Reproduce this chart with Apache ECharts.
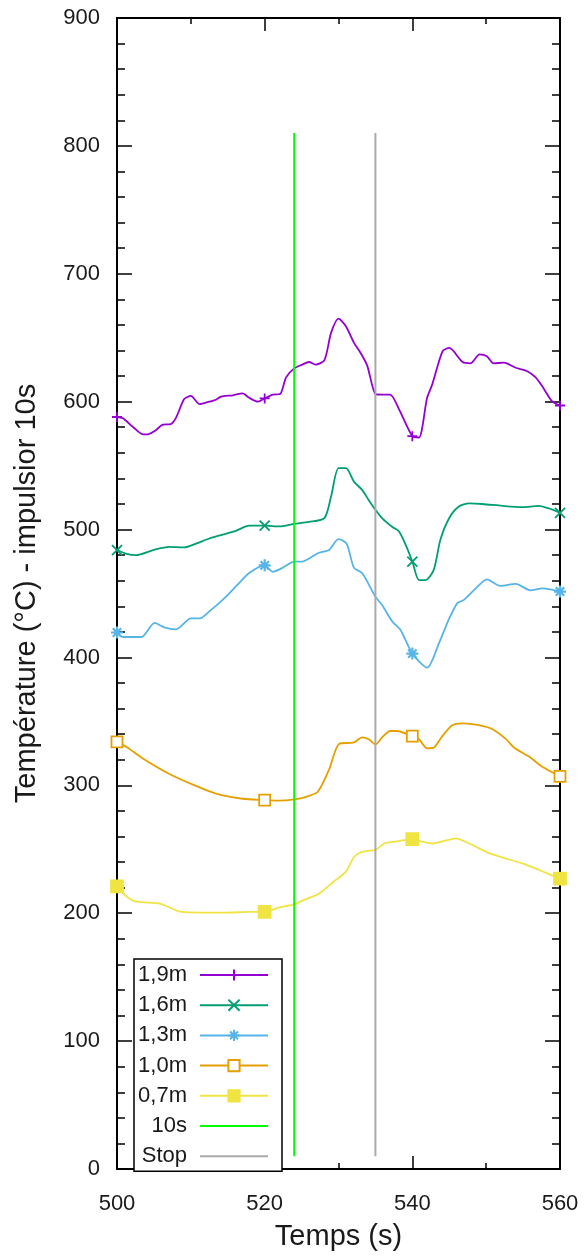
<!DOCTYPE html>
<html>
<head>
<meta charset="utf-8">
<script src="https://cdn.jsdelivr.net/npm/echarts@6/dist/echarts.min.js"></script>
<style>
  html, body { margin: 0; padding: 0; background: #fff; }
  #chart { width: 586px; height: 1257px; }
</style>
</head>
<body>
<div id="chart"></div>
<script>
// Temperature readings [time (s), °C] per probe height
const temp19 = [[500,588],[500.8,587],[502.2,580],[503.5,574.5],[504.2,574.5],[505.1,577],[506.2,582],[507.3,582.5],[508,587.5],[509.1,602],[510,604.5],[511.2,598],[512.5,600],[513.4,601.5],[514.1,604],[515.7,605],[517,606.5],[517.9,603],[519.1,600],[520,602.5],[521.1,605.5],[522.1,606],[522.9,619],[524,626],[525.1,629],[526,631],[526.9,629],[528.1,632.5],[529,654],[530,665],[531,659],[532.1,646],[533,638],[533.9,628],[535,606],[535.9,605.5],[537,605.5],[538.2,594],[540,573],[540.9,572],[542,603],[542.7,613.5],[544.1,639.5],[545,642],[546.8,631],[547.9,630],[549.1,637],[550.1,635.5],[551,630],[552.4,630.5],[554,626.5],[555.5,624],[556.7,619],[557.6,612],[558.9,600.5],[560,597]];
const temp16 = [[500,484],[501.3,481],[502.6,480],[504.9,484],[507.1,486.5],[509.1,486],[510.7,489],[512.5,493],[514.3,496],[516.1,499],[517.9,503],[520,503],[522,502.5],[524,504.5],[526,506],[528.1,509],[529,526],[530,548],[531,548],[532.1,537.5],[533.2,531],[534.1,523],[535,515.5],[535.9,509],[537.3,502],[538.2,498.5],[539.1,488],[540,475],[540.9,460.5],[541.8,460.5],[542.9,468.5],[543.8,492],[545,509],[546.3,518],[547.7,520.5],[549.5,520],[552.2,518.5],[554.9,517.5],[557.1,518.5],[558.5,516.5],[560,513]];
const temp13 = [[500,419.5],[500.8,416],[503.3,416],[505.1,427],[506.4,423.5],[508,422],[510,430.5],[511.2,430.5],[512.5,436],[514.3,445],[516.1,455.5],[517.9,466],[520,472],[521.1,467],[522.4,470],[524,475],[525.1,475],[527.2,481.5],[528.7,484],[530,492.5],[531.1,489],[532.1,470],[533.2,466],[535,447.5],[535.9,441],[537.3,428],[538.4,421.5],[540,403],[542,392],[543.6,411],[545,430.5],[546.1,442.5],[547,445],[548.6,454],[550.1,461],[551.9,456],[554,457.5],[556,452.5],[557.6,454],[560,451.5]];
const temp10 = [[500,334],[501.3,330],[503.5,321],[506.9,309.5],[510.3,300.5],[513.4,293.5],[517,289.5],[520,288.5],[522,288],[524,289],[525.6,291],[527.2,295],[528.7,312],[530.1,332.5],[532.1,333.5],[533.2,337.5],[534.1,336],[535,332],[535.9,337.5],[537,342.5],[537.9,342.5],[540,338.5],[540.9,336],[542,329],[542.9,329.5],[544,338],[545.4,347],[546.8,348.5],[549,347],[550.8,344],[552.6,336.5],[553.9,329],[555.8,322.5],[557.6,314.5],[560,307]];
const temp07 = [[500,221],[501.3,213],[502.6,209],[505.8,207.5],[508.7,201],[511.6,200.5],[514.8,200.5],[517.9,201],[520,201],[522,204.5],[524,207],[525.6,211],[527.4,215.5],[529.2,224],[531,232.5],[532.1,244],[533.2,248],[535,249.5],[536.2,254.5],[537.7,256],[540,258],[541.3,256],[542.7,254.5],[545.9,258.5],[547.7,254.5],[550.4,247],[553.1,242],[554.9,239],[557.1,234],[560,227]];

// Event markers: end of 10 s impulse and stop
const eventTimes = { '10s': 524, 'Stop': 535 };
const eventSpan = [10, 810];

const xTicks = { min: 500, max: 560, interval: 20 };
const yTicks = { min: 0, max: 900, interval: 100 };

const FONT = '"Liberation Sans", Arial, sans-serif';
const TXT = '#1a1a1a';

const plusPath = 'path://M0,5L10,5M5,0L5,10';
const crossPath = 'path://M0,0L10,10M0,10L10,0';
const starPath = 'path://M0,5L10,5M5,0L5,10M1.5,1.5L8.5,8.5M1.5,8.5L8.5,1.5';

// Symbols only every 20 s, as in the plot's point interval
function withMarks(arr) {
  return arr.map(p => (p[0] % 20 === 0) ? { value: p } : { value: p, symbol: 'none' });
}

function probe(name, data, color, symbol, size, fill, markWidth) {
  return {
    name: name,
    type: 'line',
    data: withMarks(data),
    smooth: 0.25,
    clip: false,
    showAllSymbol: true,
    symbol: symbol,
    symbolSize: size,
    lineStyle: { color: color, width: 1.8 },
    itemStyle: { color: fill, borderColor: color, borderWidth: markWidth || 1.8 },
    emphasis: { disabled: true },
    z: 3
  };
}

function eventLine(name, color) {
  const t = eventTimes[name];
  return {
    name: name,
    type: 'line',
    data: [[t, eventSpan[0]], [t, eventSpan[1]]],
    symbol: 'none',
    lineStyle: { color: color, width: 2 },
    itemStyle: { color: 'rgba(0,0,0,0)', borderWidth: 0 },
    emphasis: { disabled: true },
    z: 4
  };
}

const axisLineStyle = { color: '#000', width: 2 };
const tickStyle = { color: '#000', width: 1.5 };

const option = {
  backgroundColor: '#fff',
  animation: false,
  textStyle: { fontFamily: FONT },
  grid: { left: 117, right: 26, top: 18, bottom: 88, containLabel: false },
  legend: {
    orient: 'vertical',
    left: 134,
    top: 959,
    align: 'right',
    selectedMode: false,
    backgroundColor: '#fff',
    borderColor: '#000',
    borderWidth: 1.5,
    borderRadius: 0,
    padding: [5, 13, 4, 0],
    itemGap: 8.2,
    itemWidth: 68,
    itemHeight: 14,
    formatter: name => '{t|' + name + '}',
    textStyle: {
      rich: {
        t: { width: 53, align: 'right', fontSize: 22, lineHeight: 20, color: TXT, fontFamily: FONT, padding: [0, 8, 0, 0] }
      }
    },
    data: ['1,9m', '1,6m', '1,3m', '1,0m', '0,7m', '10s', 'Stop']
  },
  xAxis: [{
    type: 'value',
    min: xTicks.min, max: xTicks.max, interval: xTicks.interval,
    name: 'Temps (s)',
    nameLocation: 'middle',
    nameGap: 53,
    nameTextStyle: { fontSize: 29, color: TXT, fontFamily: FONT },
    axisLine: { show: true, onZero: false, lineStyle: axisLineStyle },
    axisTick: { show: true, inside: true, length: 13, lineStyle: tickStyle },
    minorTick: { show: true, splitNumber: 2, length: 6, lineStyle: tickStyle },
    axisLabel: { fontSize: 22, color: TXT, margin: 24, fontFamily: FONT },
    splitLine: { show: false }
  }, {
    type: 'value', position: 'top',
    min: xTicks.min, max: xTicks.max, interval: xTicks.interval,
    axisLine: { show: true, onZero: false, lineStyle: axisLineStyle },
    axisTick: { show: true, inside: true, length: 13, lineStyle: tickStyle },
    minorTick: { show: true, splitNumber: 2, length: 6, lineStyle: tickStyle },
    axisLabel: { show: false },
    splitLine: { show: false }
  }],
  yAxis: [{
    type: 'value',
    min: yTicks.min, max: yTicks.max, interval: yTicks.interval,
    name: 'Température (°C) - impulsior 10s',
    nameLocation: 'middle',
    nameGap: 76,
    nameTextStyle: { fontSize: 29, color: TXT, fontFamily: FONT },
    axisLine: { show: true, onZero: false, lineStyle: axisLineStyle },
    axisTick: { show: true, inside: true, length: 15, lineStyle: tickStyle },
    minorTick: { show: true, splitNumber: 5, length: 8, lineStyle: tickStyle },
    axisLabel: { fontSize: 22, color: TXT, margin: 17, fontFamily: FONT },
    splitLine: { show: false }
  }, {
    type: 'value', position: 'right',
    min: yTicks.min, max: yTicks.max, interval: yTicks.interval,
    axisLine: { show: true, onZero: false, lineStyle: axisLineStyle },
    axisTick: { show: true, inside: true, length: 15, lineStyle: tickStyle },
    minorTick: { show: true, splitNumber: 5, length: 8, lineStyle: tickStyle },
    axisLabel: { show: false },
    splitLine: { show: false }
  }],
  series: [
    probe('1,9m', temp19, '#9400d3', plusPath, 10, 'none'),
    probe('1,6m', temp16, '#009e73', crossPath, 10, 'none'),
    probe('1,3m', temp13, '#56b4e9', starPath, 12, 'none', 2.2),
    probe('1,0m', temp10, '#e69f00', 'rect', 11, '#fff'),
    probe('0,7m', temp07, '#f0e442', 'rect', 12, '#f0e442'),
    eventLine('10s', '#00ff00'),
    eventLine('Stop', '#aaaaaa')
  ]
};

const chart = echarts.init(document.getElementById('chart'), null, { renderer: 'canvas' });
chart.setOption(option);
</script>
</body>
</html>
